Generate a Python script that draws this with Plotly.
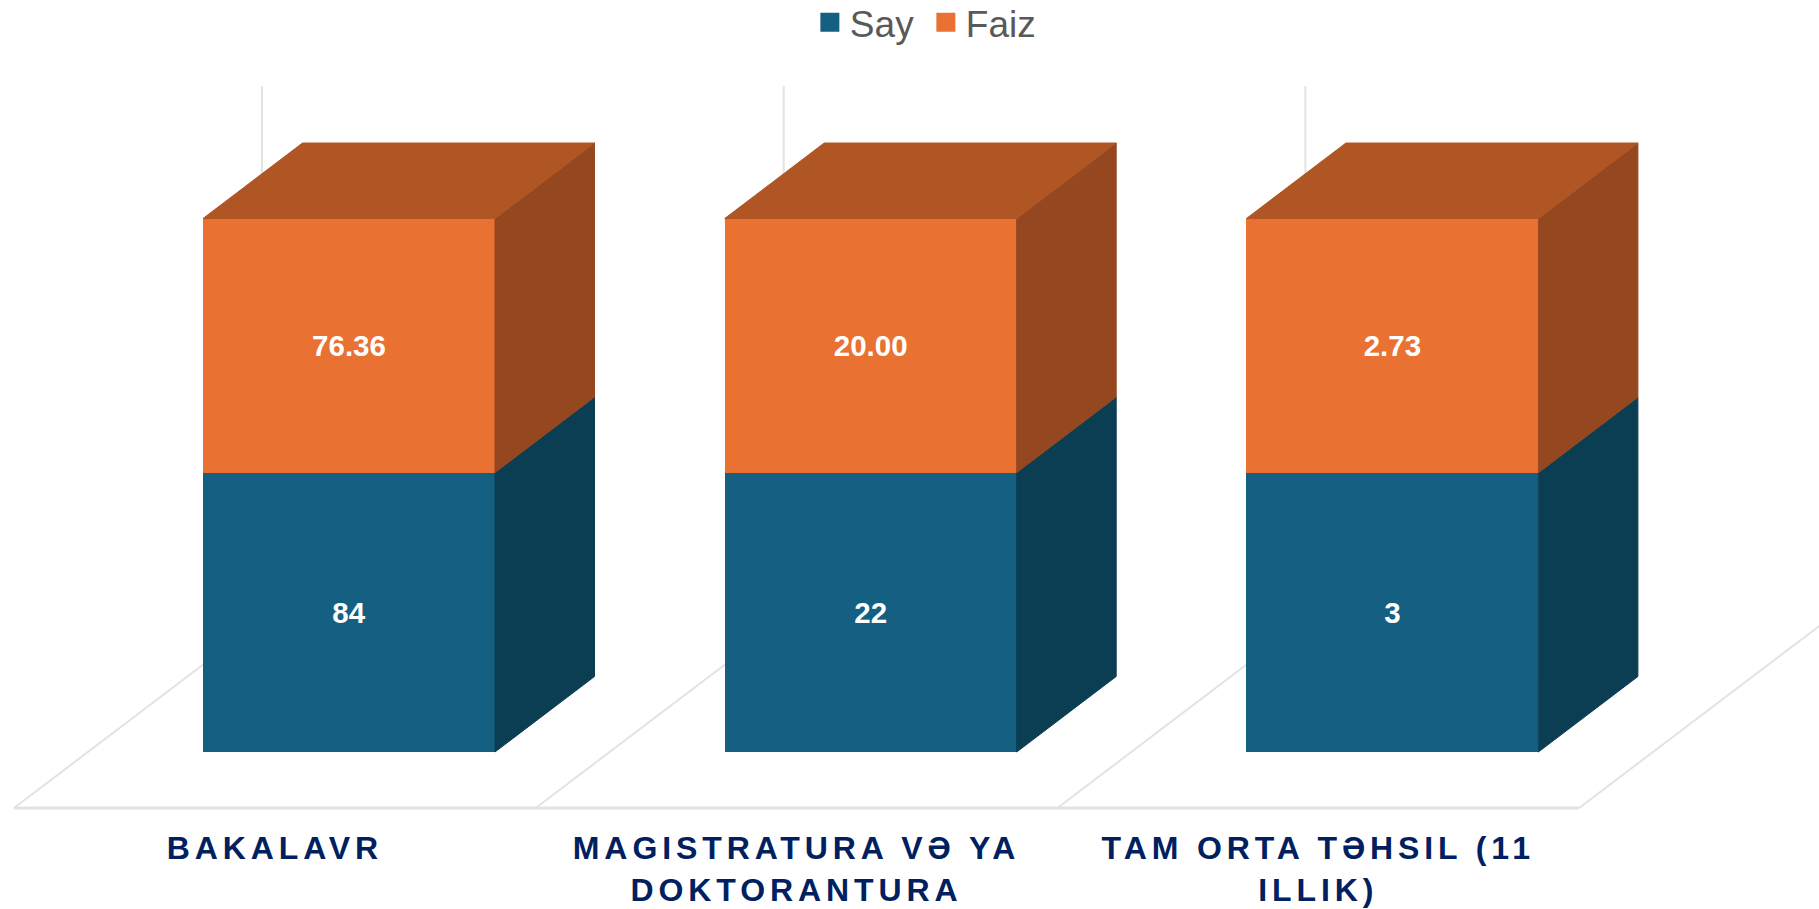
import plotly.graph_objects as go

# --- data ---
categories = ["BAKALAVR", "MAGISTRATURA VƏ YA<br>DOKTORANTURA", "TAM ORTA TƏHSIL (11<br>ILLIK)"]
say = [84, 22, 3]
faiz = [76.36, 20.00, 2.73]
faiz_text = ["76.36", "20.00", "2.73"]

# --- colours ---
BLUE, BLUE_SIDE = "#156082", "#0C3E53"
ORANGE, ORANGE_SIDE, ORANGE_TOP = "#E97132", "#95471F", "#B05625"
GRID = "#E3E3E3"

# --- canvas and scale (one category = 521.7 px, 100 % = 533.5 px) ---
W, H = 1819, 909
PLOT_BOTTOM = 826
PX_X, PX_Y = 521.7, 5.335
ZERO_X, ZERO_Y = 349.0, 752.0      # bar 0 centre, front baseline
BAR_W = 292 / PX_X
DEPTH_X, DEPTH_Y = 99.5 / PX_X, 75.5 / PX_Y     # 3D depth of one bar
# floor: front edge lies in front of the bars, back edge behind them
FLOOR_FRONT_Y = (ZERO_Y - 808) / PX_Y
FLOOR_BACK_Y = (ZERO_Y - 620) / PX_Y
WALL_TOP_Y = (ZERO_Y - 86) / PX_Y
CELL_OFFSET = (14 - ZERO_X) / PX_X         # left floor corner of cell 0
WALL_OFFSET = (262 - ZERO_X) / PX_X        # wall line of cell 0
LABEL_OFFSET = CELL_OFFSET + 0.5

fig = go.Figure()
n = len(categories)
share_say = [100 * s / (s + f) for s, f in zip(say, faiz)]

fig.add_bar(x=list(range(n)), y=say, width=BAR_W, marker=dict(color=BLUE, line_width=0),
            text=[str(v) for v in say], name="Say", legendgroup="say", showlegend=False)
fig.add_bar(x=list(range(n)), y=faiz, width=BAR_W, marker=dict(color=ORANGE, line_width=0),
            text=faiz_text, name="Faiz", legendgroup="faiz", showlegend=False)
fig.update_traces(textposition="inside", insidetextanchor="middle", textangle=0,
                  constraintext="none", hoverinfo="skip",
                  textfont=dict(family="Liberation Sans", size=29.5, color="white", weight="bold"))


def face(xs, ys, color):
    fig.add_scatter(x=xs, y=ys, mode="lines", fill="toself", fillcolor=color,
                    line=dict(width=1, color=color), hoverinfo="skip", showlegend=False)


for i, low in enumerate(share_say):
    r = i + BAR_W / 2
    l = i - BAR_W / 2
    # side faces
    face([r, r + DEPTH_X, r + DEPTH_X, r, r], [0, DEPTH_Y, low + DEPTH_Y, low, 0], BLUE_SIDE)
    face([r, r + DEPTH_X, r + DEPTH_X, r, r], [low, low + DEPTH_Y, 100 + DEPTH_Y, 100, low], ORANGE_SIDE)
    # top face
    face([l, r, r + DEPTH_X, l + DEPTH_X, l], [100, 100, 100 + DEPTH_Y, 100 + DEPTH_Y, 100], ORANGE_TOP)

# legend entries
for name, color in (("Say", BLUE), ("Faiz", ORANGE)):
    fig.add_scatter(x=[None], y=[None], mode="markers", name=name,
                    marker=dict(symbol="square", size=16, color=color, line=dict(width=3, color=color)))

# floor and back wall, behind everything
shapes = []
line = dict(color=GRID, width=2)
for i in range(n + 1):
    x0 = i + CELL_OFFSET
    x1 = i + WALL_OFFSET
    shapes.append(dict(type="line", layer="below", xref="x", yref="y", x0=x0, x1=x1,
                       y0=FLOOR_FRONT_Y, y1=FLOOR_BACK_Y, line=line))
    shapes.append(dict(type="line", layer="below", xref="x", yref="y", x0=x1, x1=x1,
                       y0=FLOOR_BACK_Y, y1=WALL_TOP_Y, line=line))
shapes.append(dict(type="line", layer="below", xref="x", yref="y", x0=CELL_OFFSET, x1=n + CELL_OFFSET,
                   y0=FLOOR_FRONT_Y, y1=FLOOR_FRONT_Y, line=dict(color=GRID, width=3)))

fig.update_layout(
    width=W, height=H, autosize=False,
    margin=dict(l=0, r=0, t=0, b=H - PLOT_BOTTOM, pad=0, autoexpand=False),
    paper_bgcolor="white", plot_bgcolor="white",
    barmode="stack", barnorm="percent", shapes=shapes,
    font=dict(family="Liberation Sans"),
    xaxis=dict(type="linear", range=[-ZERO_X / PX_X, (W - ZERO_X) / PX_X],
               tickmode="array", tickvals=[i + LABEL_OFFSET for i in range(n)], ticktext=categories,
               showgrid=False, zeroline=False, showline=False, ticks="", tickangle=0,
               automargin=False,
               tickfont=dict(family="Liberation Sans", size=32, color="#002060", weight="bold")),
    yaxis=dict(range=[(ZERO_Y - PLOT_BOTTOM) / PX_Y, ZERO_Y / PX_Y], visible=False),
    legend=dict(orientation="h", x=0.509, xanchor="center", y=1.01, yanchor="top", traceorder="normal",
                bgcolor="rgba(0,0,0,0)", entrywidth=71, entrywidthmode="pixels",
                font=dict(family="Liberation Sans", size=37, color="#595959")),
)

post = ("document.body.style.margin='0';document.documentElement.style.overflow='hidden';"
        "document.querySelectorAll('.xtick text, .xtick tspan').forEach(function(e){e.style.letterSpacing='4.9px';});")
fig.write_html("out.html", post_script=post, config=dict(displayModeBar=False))
